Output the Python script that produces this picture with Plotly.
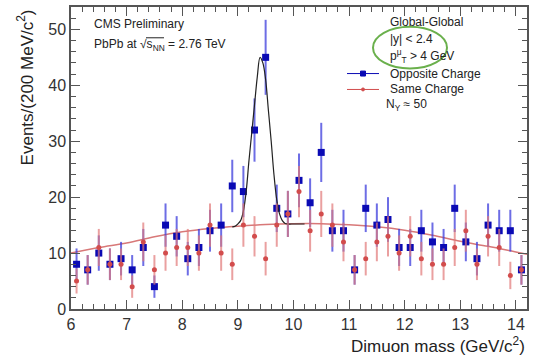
import numpy as np
import plotly.graph_objects as go

# Bin centres (200 MeV bins)
mass = [6.1, 6.3, 6.5, 6.7, 6.9, 7.1, 7.3, 7.5, 7.7, 7.9, 8.1, 8.3, 8.5, 8.7, 8.9,
        9.1, 9.3, 9.5, 9.7, 9.9, 10.1, 10.3, 10.5, 10.7, 10.9, 11.1, 11.3, 11.5,
        11.7, 11.9, 12.1, 12.3, 12.5, 12.7, 12.9, 13.1, 13.3, 13.5, 13.7, 13.9, 14.1]

opposite = [8, 7, 10, 8, 9, 7, 11, 4, 15, 13, 9, 11, 14, 15, 22,
            21, 32, 45, 18, 17, 23, 19, 28, 14, 14, 7, 18, 15,
            16, 11, 11, 14, 12, 11, 18, 12, 9, 15, 14, 14, 7]

same = [5, 7, 11, 8, 8, 4, 12, 7, 10, 11, 11, 10, 15, 10, 8,
        15, 13, 9, 15, 17, 21, 14, 17, 15, 12, 7, 9, 12,
        13, 10, 13, 9, 8, 8, 11, 14, 8, 13, 11, 6, 7]

# Background fit curve
bkg_x = [6.0, 6.5, 7.0, 7.5, 8.0, 8.5, 9.0, 9.5, 10.0, 10.5, 11.0, 11.5, 12.0,
         12.5, 13.0, 13.5, 14.0, 14.2]
bkg_y = [10.0, 11.0, 11.8, 12.9, 13.8, 14.4, 14.8, 15.1, 15.25, 15.25, 15.05,
         14.7, 14.1, 13.2, 12.1, 11.2, 10.2, 9.8]

# Signal + background fit curve
sig_x = [8.9, 8.95, 9.0, 9.05, 9.1, 9.15, 9.2, 9.25, 9.3, 9.35, 9.4, 9.45, 9.5,
         9.55, 9.6, 9.65, 9.7, 9.75, 9.8, 9.85, 9.9, 10.0, 10.1, 10.2]
sig_y = [14.7, 14.8, 15.2, 15.8, 17.5, 21.0, 26.5, 31.5, 36.5, 41.5, 45.0, 44.0,
         41.0, 35.5, 30.0, 24.0, 19.5, 17.0, 15.8, 15.3, 15.2, 15.2, 15.2, 15.2]

opp_err = np.sqrt(opposite)
same_err = np.sqrt(same)

BLUE = "#0a0ab4"
BLUE_ERR = "rgba(60,60,220,0.75)"
RED = "#d24c4c"
RED_ERR = "rgba(225,120,120,0.7)"
FONT = "Liberation Sans, Arial, sans-serif"

fig = go.Figure()
fig.add_trace(go.Scatter(x=bkg_x, y=bkg_y, mode="lines", line=dict(color="#d87878", width=1.5, shape="spline"),
                         showlegend=False, hoverinfo="skip"))
fig.add_trace(go.Scatter(x=mass, y=opposite, mode="markers",
                         marker=dict(symbol="square", size=7, color=BLUE),
                         error_y=dict(type="data", array=opp_err, color=BLUE_ERR, thickness=2, width=0),
                         showlegend=False))
fig.add_trace(go.Scatter(x=sig_x, y=sig_y, mode="lines", line=dict(color="#222222", width=1.2, shape="spline"),
                         showlegend=False, hoverinfo="skip"))
fig.add_trace(go.Scatter(x=mass, y=same, mode="markers",
                         marker=dict(symbol="circle", size=5, color=RED),
                         error_y=dict(type="data", array=same_err, color=RED_ERR, thickness=2, width=0),
                         showlegend=False))

axis_common = dict(showline=True, linecolor="#555555", linewidth=1.5, mirror="ticks",
                   ticks="inside", ticklen=9, tickcolor="#555555", tickwidth=1,
                   showgrid=False, zeroline=False,
                   tickfont=dict(family=FONT, size=16, color="#333333"))

fig.update_xaxes(range=[6, 14.2], dtick=1, tick0=6,
                 minor=dict(dtick=0.2, ticks="inside", ticklen=5, tickcolor="#555555", showgrid=False),
                 **axis_common)
fig.update_yaxes(range=[0, 54], dtick=10, tick0=0,
                 minor=dict(dtick=2, ticks="inside", ticklen=5, tickcolor="#555555", showgrid=False),
                 **axis_common)

def px2x(px):
    return (px - 71) / 456.0

def py2y(py):
    return (309 - py) / 304.0

ann = []
def text(px, py, s, size=12, anchor="left"):
    ann.append(dict(x=px2x(px), y=py2y(py), xref="paper", yref="paper", text=s, showarrow=False,
                    xanchor=anchor, yanchor="middle", font=dict(family=FONT, size=size, color="#222222")))

text(92, 22, "CMS Preliminary")
text(92, 43, "PbPb at √s<sub>NN</sub> = 2.76 TeV")
text(388, 20, "Global-Global")
text(388, 37, "|y| < 2.4")
text(388, 54, "p<sup>μ</sup><sub>T</sub> > 4 GeV")
text(388, 72, "Opposite Charge")
text(388, 88, "Same Charge")
text(384, 104, "N<sub>Υ</sub> ≈ 50")

ann.append(dict(x=-0.10, y=1.0, xref="paper", yref="paper", text="Events/(200 MeV/c<sup>2</sup>)",
                textangle=-90, showarrow=False, xanchor="center", yanchor="top",
                font=dict(family=FONT, size=17, color="#222222")))
ann.append(dict(x=1.0, y=py2y(345), xref="paper", yref="paper", text="Dimuon mass (GeV/c<sup>2</sup>)",
                showarrow=False, xanchor="right", yanchor="middle",
                font=dict(family=FONT, size=17, color="#222222")))

shapes = []
# overline of sqrt
shapes.append(dict(type="line", xref="paper", yref="paper", x0=px2x(146), x1=px2x(164),
                   y0=py2y(36), y1=py2y(36), line=dict(color="#222222", width=1)))
# green ellipse
shapes.append(dict(type="circle", xref="paper", yref="paper", x0=px2x(373), x1=px2x(447),
                   y0=py2y(67), y1=py2y(25), line=dict(color="#6ab04c", width=2)))
# legend glyphs
shapes.append(dict(type="line", xref="paper", yref="paper", x0=px2x(347), x1=px2x(379),
                   y0=py2y(72), y1=py2y(72), line=dict(color=BLUE, width=1)))
shapes.append(dict(type="rect", xref="paper", yref="paper", x0=px2x(360.5), x1=px2x(365.5),
                   y0=py2y(74.5), y1=py2y(69.5), line=dict(color=BLUE, width=1), fillcolor=BLUE))
shapes.append(dict(type="line", xref="paper", yref="paper", x0=px2x(347), x1=px2x(379),
                   y0=py2y(88), y1=py2y(88), line=dict(color=RED, width=1)))
shapes.append(dict(type="circle", xref="paper", yref="paper", x0=px2x(361.5), x1=px2x(364.5),
                   y0=py2y(89.5), y1=py2y(86.5), line=dict(color=RED, width=1), fillcolor=RED))

fig.update_layout(width=538, height=360, margin=dict(l=71, r=11, t=5, b=51),
                  plot_bgcolor="white", paper_bgcolor="white",
                  annotations=ann, shapes=shapes, showlegend=False)

fig.write_html("out.html", config={"displayModeBar": False},
               post_script="document.body.style.margin='0px';document.body.style.overflow='hidden';")
